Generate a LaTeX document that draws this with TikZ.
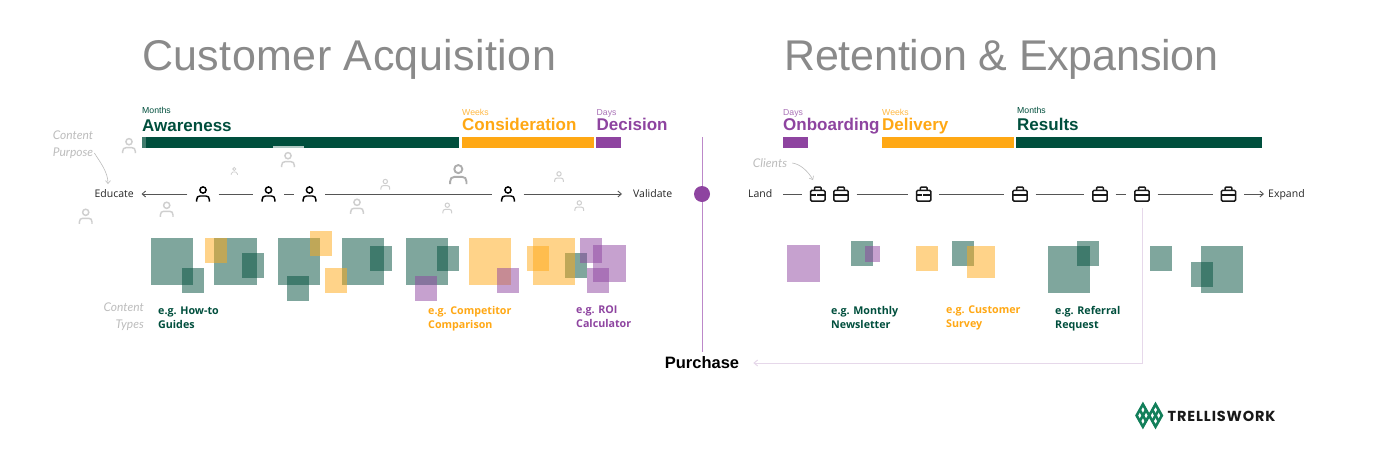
\documentclass[tikz,border=0pt]{standalone}
\usepackage{fontspec}
\setmainfont{Liberation Sans}
\newfontfamily\titlefontA[LetterSpace=1]{Liberation Sans}
\newfontfamily\titlefontB[LetterSpace=-0.4]{Liberation Sans}
\newfontfamily\labelfont{Open Sans}
\newfontfamily\handfont{Lato}
\newfontfamily\logofont[LetterSpace=6]{Poppins}
\usetikzlibrary{arrows.meta}
\definecolor{tgreen}{HTML}{004F3D}
\definecolor{torange}{HTML}{FFA814}
\definecolor{tpurple}{HTML}{8E44A0}
\definecolor{tgray}{HTML}{8A8A8A}
\definecolor{ghost}{HTML}{CFCFCF}
\definecolor{tline}{HTML}{555555}
\definecolor{tstem}{HTML}{BC88C9}
\definecolor{tpale}{HTML}{E6D8EA}
\definecolor{thand}{HTML}{BDBDBD}
\definecolor{tlogo}{HTML}{127F5A}
\tikzset{
  x=1pt,y=-1pt,
  title/.style={anchor=base west,inner sep=0,text=tgray},
  head/.style={anchor=base west,inner sep=0,font=\fontsize{17}{17}\selectfont\bfseries},
  span/.style={anchor=base west,inner sep=0,font=\fontsize{8.7}{9}\selectfont},
  eg/.style={anchor=north west,inner sep=0,align=left,font=\fontsize{10.7}{14}\selectfont\labelfont\bfseries},
  axis/.style={inner sep=0,text height=7.5,text depth=0,font=\fontsize{10.5}{11}\selectfont\labelfont,text=black!85},
  hand/.style={inner sep=0,align=center,text=thand,font=\fontsize{12}{17}\selectfont\handfont\itshape},
  slot/.style={minimum width=31,minimum height=16,inner sep=0,draw=none},
  conn/.style={draw=tline,line width=0.9},
  tip/.style={-{Straight Barb[length=3.5,width=6]}},
  note/.style={draw=thand,line width=0.6,-{Straight Barb[length=3,width=5]}},
  gs/.style={fill=tgreen,fill opacity=.5},
  os/.style={fill=torange,fill opacity=.5},
  ps/.style={fill=tpurple,fill opacity=.5},
}
\newcommand\personicon[4]{%
  \begin{scope}[shift={(#1,#2)},scale=#3,draw=#4,line width=1.45*#3 pt]
    \draw (0,-4) circle[radius=3.1];
    \draw (-6.3,7.5) -- (-6.3,5.6) .. controls (-6.3,3.2) and (-5,2) .. (-3,2) -- (3,2) .. controls (5,2) and (6.3,3.2) .. (6.3,5.6) -- (6.3,7.5);
  \end{scope}}
\newcommand\caseicon[2]{%
  \begin{scope}[shift={(#1,#2)},line width=1.5,draw=black!90]
    \draw[rounded corners=1.2] (-7.2,-3.6) rectangle (7.2,7);
    \draw[rounded corners=1] (-3.3,-3.6) -- (-3.3,-7) -- (3.3,-7) -- (3.3,-3.6);
    \draw (-7.2,1.2) -- (-1.4,1.2) (1.4,1.2) -- (7.2,1.2);
    \fill[black!90] (-1.2,0) rectangle (1.2,2.4);
  \end{scope}}
\begin{document}
\begin{tikzpicture}
\fill[white] (0,0) rectangle (1380,469);
\useasboundingbox (0,0) rectangle (1380,469);

% Titles
\node[title,font=\fontsize{43}{43}\selectfont\titlefontA] (t1) at (142,70) {Customer Acquisition};
\node[title,font=\fontsize{43}{43}\selectfont\titlefontB] (t2) at (784,70) {Retention \& Expansion};

% Phase labels
\node[span,text=tgreen] (s1) at (142,113) {Months};
\node[head,text=tgreen] (h1) at (142,131) {Awareness};
\node[span,text=torange!80] (s2) at (462,115) {Weeks};
\node[head,text=torange] (h2) at (462,130.5) {Consideration};
\node[span,text=tpurple!75] (s3) at (596.5,115) {Days};
\node[head,text=tpurple] (h3) at (596.5,130.5) {Decision};
\node[span,text=tpurple!75] (s4) at (783,115) {Days};
\node[head,text=tpurple] (h4) at (783,130.5) {Onboarding};
\node[span,text=torange!80] (s5) at (882,115) {Weeks};
\node[head,text=torange] (h5) at (882,130.5) {Delivery};
\node[span,text=tgreen] (s6) at (1017,113) {Months};
\node[head,text=tgreen] (h6) at (1017,130.5) {Results};

% Bars
\fill[tgreen] (142,137) rectangle (459,148);
\fill[tgreen!75] (142,137) rectangle (146,148);
\fill[torange] (462,137) rectangle (593.5,148);
\fill[tpurple] (596,137) rectangle (621,148);
\fill[tpurple] (783,137) rectangle (808,148);
\fill[torange] (882,137) rectangle (1014,148);
\fill[tgreen] (1016,137) rectangle (1262,148);
\fill[white,fill opacity=.7] (273,146) rectangle (304,148);

% Stem and elbow
\coordinate (stemtop) at (702,137);
\coordinate (stembot) at (702,351.5);
\draw[tstem,line width=1] (stemtop) -- (stembot);
\node[circle,fill=tpurple,minimum size=16,inner sep=0] (hub) at (702,194) {};
\node[inner sep=0,font=\fontsize{16.5}{17}\selectfont\bfseries] (buy) at (702,363) {Purchase};

% Ghost persons
\personicon{129}{145.7}{1}{ghost}
\personicon{288}{159.7}{1}{ghost}
\personicon{234.3}{171}{.5}{ghost}
\personicon{166.7}{209.3}{1}{ghost}
\personicon{85.7}{216.3}{1}{ghost}
\personicon{357}{206.3}{1}{ghost}
\personicon{385.3}{184.3}{.7}{ghost}
\personicon{458.3}{174.3}{1.3}{black!32}
\personicon{447.3}{208}{.7}{ghost}
\personicon{559}{176.7}{.7}{ghost}
\personicon{579.3}{205.7}{.7}{ghost}

% Left axis
\node[axis,anchor=east] (edu) at (134,194) {Educate};
\node[axis,anchor=west] (val) at (633,194) {Validate};
\node[slot] (p1) at (203,194) {};
\node[slot] (p2) at (268.5,194) {};
\node[slot] (p3) at (309.5,194) {};
\node[slot] (p4) at (508,194) {};
\personicon{203}{194}{1}{black}
\personicon{268.5}{194}{1}{black}
\personicon{309.5}{194}{1}{black}
\personicon{508}{194}{1}{black}
\draw[conn,tip] (p1.west) -- ([xshift=7.5]edu.east);
\draw[conn] (p1.east) -- (p2.west);
\draw[conn] (p2.east) -- (p3.west);
\draw[conn] (p3.east) -- (p4.west);
\draw[conn,tip] (p4.east) -- ([xshift=-11]val.west);

% Right axis
\node[axis,anchor=east] (land) at (772.5,194) {Land};
\node[axis,anchor=west] (exp) at (1268,194) {Expand};
\node[slot] (c1) at (817.8,194) {};
\node[slot] (c2) at (841,194) {};
\node[slot] (c3) at (923.7,194) {};
\node[slot] (c4) at (1020,194) {};
\node[slot] (c5) at (1100,194) {};
\node[slot] (c6) at (1142,194) {};
\node[slot] (c7) at (1228.5,194) {};
\caseicon{817.8}{194}
\caseicon{841}{194}
\caseicon{923.7}{194}
\caseicon{1020}{194}
\caseicon{1100}{194}
\caseicon{1142}{194}
\caseicon{1228.5}{194}
\draw[conn] ([xshift=10.5]land.east) -- (c1.west);
\draw[conn] (c2.east) -- (c3.west);
\draw[conn] (c3.east) -- (c4.west);
\draw[conn] (c4.east) -- (c5.west);
\draw[conn] (c5.east) -- (c6.west);
\draw[conn] (c6.east) -- (c7.west);
\draw[conn,tip] (c7.east) -- ([xshift=-4]exp.west);

% Purchase elbow
\draw[tpale,line width=1,-{Straight Barb[length=3.5,width=6]}] ([yshift=-6]c6.south) -- (1142,363) -- ([xshift=14]buy.east);

% Squares
\foreach \a/\b/\c/\d in {151/238/193/285,182.3/268.3/204/293.3,214.3/238/256.7/285,242.3/253.3/264/278.3,278.3/238/320.3/285,287/276/309/300.7,342/238/384/285,369.7/246/392/270.7,405.7/238/447.7/285,437/246/459/270.7,564.7/253.3/586.7/278.3,851/241.3/873/266,951.7/241.3/973.7/266,1048.3/246/1090.3/293,1077/241.3/1099/266,1149.7/246/1171.7/270.7,1200.7/246/1242.7/293,1191/262.3/1213/287.3}
  \fill[gs] (\a,\b) rectangle (\c,\d);
\foreach \a/\b/\c/\d in {205/238/226.7/263,309.7/231/331.7/255.7,324.7/268.3/346.7/293.3,469.3/238/511.3/285,533.3/238/575/285,527/246/549/270.7,915.7/246/937.7/270.7,967/246/995.3/278}
  \fill[os] (\a,\b) rectangle (\c,\d);
\foreach \a/\b/\c/\d in {414.7/276/436.7/300.7,497.3/268.3/519/293.3,579.7/238.3/601.7/263,593.3/245/626.3/282,587/268.3/609/293.3,786.7/245/819.7/282,865.3/246/880/262}
  \fill[ps] (\a,\b) rectangle (\c,\d);

% Content examples
\node[eg,text=tgreen] (e1) at (158,306.5) {e.g. How-to\\Guides};
\node[eg,text=torange] (e2) at (428,306) {e.g. Competitor\\Comparison};
\node[eg,text=tpurple] (e3) at (576,306) {e.g. ROI\\Calculator};
\node[eg,text=tgreen] (e4) at (831,306.5) {e.g. Monthly\\Newsletter};
\node[eg,text=torange] (e5) at (946,306) {e.g. Customer\\Survey};
\node[eg,text=tgreen] (e6) at (1055,306.5) {e.g. Referral\\Request};

% Handwritten notes
\node[hand] (n1) at (73,145) {Content\\Purpose};
\node[hand,align=right,anchor=north east] (n2) at (144,303) {Content\\Types};
\node[hand] (n3) at (770,163) {Clients};
\coordinate (n1to) at (108,184);
\coordinate (n3to) at (813,180);
\draw[note] (n1.east) ++(1,8) .. controls (100,162) and (108,172) .. (n1to);
\draw[note] (n3.east) ++(5,0) .. controls (800,164) and (808,171) .. (n3to);

% Logo
\begin{scope}[shift={(1149.2,415.5)},x=6.3pt,y=5.6pt,draw=tlogo,line width=2.6,line join=miter,line cap=round]
  \draw (-2,0) -- (-1,-2) -- (0,0) -- (1,-2) -- (2,0) -- (1,2) -- (0,0) -- (-1,2) -- cycle;
  \draw (-1.5,1) -- (-.5,-1) (.5,1) -- (1.5,-1);
  \draw (-1.5,-1) -- (-.5,1) (.5,-1) -- (1.5,1);
\end{scope}
\node[anchor=base west,inner sep=0,font=\fontsize{14.5}{15}\selectfont\logofont\bfseries,text=black!90] (logo) at (1167.5,421) {TRELLISWORK};
\end{tikzpicture}
\end{document}
